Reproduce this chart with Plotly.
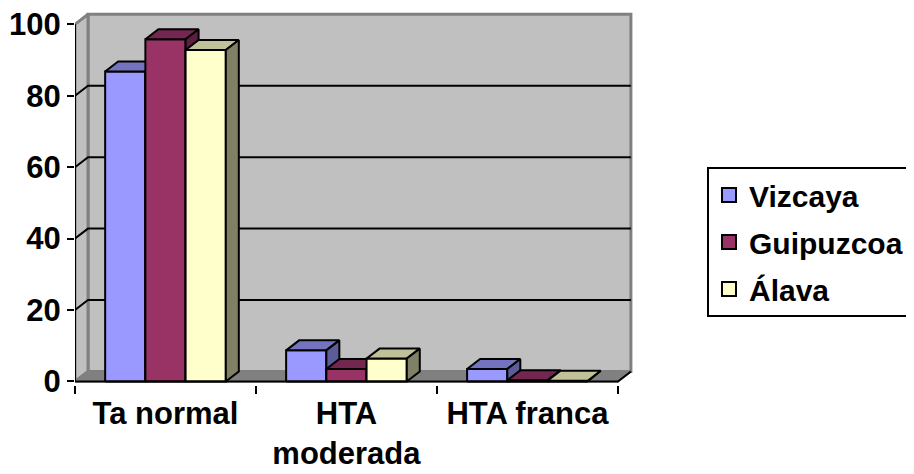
import plotly.graph_objects as go

# ---- data ----
categories = ["Ta normal", "HTA<br>moderada", "HTA franca"]
series_names = ["Vizcaya", "Guipuzcoa", "Álava"]
vizcaya = [86.8, 8.7, 3.5]
guipuzcoa = [95.8, 3.5, 0.3]
alava = [92.8, 6.4, 0.2]
y_ticks = [0, 20, 40, 60, 80, 100]

series_values = [vizcaya, guipuzcoa, alava]
front_colors = ["#9999FF", "#993366", "#FFFFCC"]
top_colors = ["#7373C0", "#732650", "#C0C099"]
side_colors = ["#5C5C99", "#5C1F3D", "#808066"]

# ---- geometry (figure pixels -> data units); page body has an 8px margin ----
W, H = 906, 466
Y0, Y1 = -1, 104
px_y = 3.577
ML = 67
MT = 16 - (Y1 - 100) * px_y
PH = (Y1 - Y0) * px_y
MB = H - MT - PH
XR = 3.1
PW = 561
MR = W - ML - PW
px_x = PW / XR
DX = 13 / px_x
DY = 10 / px_y
n_cat = len(categories)
n_ser = len(series_names)
bw = 1 / (n_ser + 1.5)
start = 0.75 * bw

fig = go.Figure()

def poly(xs, ys, fill, line_color="black", lw=2):
    fig.add_trace(go.Scatter(x=xs + [xs[0]], y=ys + [ys[0]], mode="lines", fill="toself",
                             fillcolor=fill, line=dict(color=line_color, width=lw),
                             showlegend=False, hoverinfo="skip", cliponaxis=False))

top = y_ticks[-1]
# back wall
poly([DX, n_cat + DX, n_cat + DX, DX], [DY, DY, top + DY, top + DY], "#C0C0C0", "#808080", 3)
# left wall
poly([0, DX, DX, 0], [0, DY, top + DY, top], "#C0C0C0", "#808080", 3)
# floor
poly([0, n_cat, n_cat + DX, DX], [0, 0, DY, DY], "#808080", "#808080", 2)

# gridlines on walls
gx, gy = [], []
for v in y_ticks[1:-1]:
    gx += [0, DX, n_cat + DX, None]
    gy += [v, v + DY, v + DY, None]
fig.add_trace(go.Scatter(x=gx, y=gy, mode="lines", line=dict(color="black", width=2),
                         showlegend=False, hoverinfo="skip", cliponaxis=False))

# front axis lines
fig.add_trace(go.Scatter(x=[0, 0, n_cat, n_cat + DX], y=[top, 0, 0, DY], mode="lines",
                         line=dict(color="black", width=2), showlegend=False,
                         hoverinfo="skip", cliponaxis=False, xaxis="x2"))

# bars
for j in range(n_cat):
    for i in range(n_ser):
        v = series_values[i][j]
        x0 = j + start + i * bw
        x1 = x0 + bw
        poly([x0, x1, x1, x0], [0, 0, v, v], front_colors[i])
        poly([x0, x1, x1 + DX, x0 + DX], [v, v, v + DY, v + DY], top_colors[i])
        poly([x1, x1 + DX, x1 + DX, x1], [0, DY, v + DY, v], side_colors[i])

# legend entries
for i in range(n_ser):
    fig.add_trace(go.Scatter(x=[None], y=[None], mode="markers", name=series_names[i],
                             marker=dict(symbol="square", size=14, color=front_colors[i],
                                         line=dict(color="black", width=2)),
                             legendgroup=series_names[i]))

font = dict(family="Liberation Sans, Arial, sans-serif", size=31, color="black", weight="bold")
legend_font = dict(font, size=30)
fig.update_layout(
    width=W, height=H,
    margin=dict(l=ML, r=MR, t=MT, b=MB, pad=0, autoexpand=False),
    paper_bgcolor="white", plot_bgcolor="white",
    font=font,
    hovermode=False,
    xaxis=dict(range=[0, XR], tickvals=[j + 0.5 for j in range(n_cat)], ticktext=categories,
               ticks="", showgrid=False, zeroline=False, showline=False, tickfont=font,
               ticklabelstandoff=7, ticklabeloverflow="allow"),
    xaxis2=dict(range=[0, XR], overlaying="x", anchor="y", side="bottom",
                tickvals=list(range(n_cat + 1)), ticks="outside", ticklen=8, tickwidth=2,
                tickcolor="black", showticklabels=False, showgrid=False, zeroline=False,
                showline=False),
    yaxis=dict(range=[Y0, Y1], tickvals=y_ticks, ticks="outside", ticklen=7, tickwidth=2,
               tickcolor="black", showgrid=False, zeroline=False, showline=False, tickfont=font,
               ticklabeloverflow="allow"),
    legend=dict(x=(699 - ML) / PW, y=(MT + PH - 159) / PH, xanchor="left", yanchor="top",
                bgcolor="white", bordercolor="black", borderwidth=2, font=legend_font,
                traceorder="grouped", tracegroupgap=5),
)

fig.write_html("out.html")
